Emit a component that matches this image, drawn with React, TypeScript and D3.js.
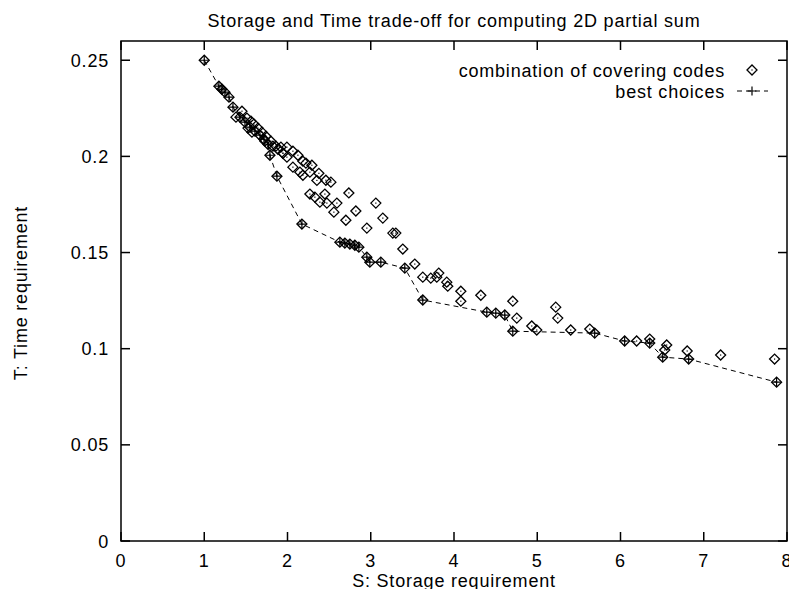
import React from "react";
import * as d3 from "d3";

const title = "Storage and Time trade-off for computing 2D partial sum";
const xLabel = "S: Storage requirement";
const yLabel = "T: Time requirement";
const xTicks = [0, 1, 2, 3, 4, 5, 6, 7, 8];
const yTicks = [0, 0.05, 0.1, 0.15, 0.2, 0.25];
const yTickLabels = ["0", "0.05", "0.1", "0.15", "0.2", "0.25"];

// best choices (S, T)
const bestS = [1.0, 1.176, 1.212, 1.248, 1.297, 1.345, 1.429, 1.489, 1.549, 1.609, 1.669, 1.717, 1.765, 1.789, 1.873, 2.173, 2.629, 2.689, 2.749, 2.809, 2.857, 2.953, 2.989, 3.121, 3.409, 3.625, 4.394, 4.502, 4.61, 4.706, 5.69, 6.05, 6.351, 6.507, 6.819, 7.875];
const bestT = [0.25, 0.2365, 0.2349, 0.2334, 0.2308, 0.2256, 0.2204, 0.2178, 0.2152, 0.2131, 0.211, 0.2089, 0.2063, 0.2006, 0.1897, 0.1648, 0.1554, 0.1549, 0.1544, 0.1538, 0.1528, 0.1476, 0.145, 0.145, 0.1419, 0.1253, 0.119, 0.1185, 0.1175, 0.1091, 0.1081, 0.104, 0.1029, 0.0956, 0.0946, 0.0826];

// other combinations of covering codes (S, T)
const otherS = [1.453, 1.513, 1.561, 1.597, 1.645, 1.693, 1.741, 1.801, 1.861, 1.885, 1.945, 1.993, 1.381, 1.525, 1.573, 1.729,
  1.825, 1.921, 1.993, 1.945, 2.065, 2.125, 2.185, 2.221, 2.293, 2.065, 2.149, 2.185, 2.269, 2.377, 2.353, 2.461, 2.521,
  2.269, 2.329, 2.449, 2.389, 2.473, 2.593, 2.737, 2.557, 2.821, 3.061, 2.701, 3.145, 2.953, 3.265, 3.301, 3.385, 3.529,
  3.625, 3.721, 3.793, 3.817, 3.913, 3.925, 4.082, 4.082, 4.322, 4.706, 4.754, 4.934, 4.994, 5.222, 5.246, 5.402, 5.631,
  6.194, 6.351, 6.555, 6.531, 6.801, 7.203, 7.851];
const otherT = [0.2235, 0.2199, 0.2183, 0.2168, 0.2147, 0.2126, 0.2105, 0.2079, 0.2053, 0.2037, 0.2016, 0.1996, 0.2204, 0.2147, 0.2126, 0.2079,
  0.2053, 0.2048, 0.2048, 0.2017, 0.2027, 0.2006, 0.1975, 0.1965, 0.1954, 0.1944, 0.1918, 0.1902, 0.1918, 0.1912, 0.1875, 0.1876, 0.1866,
  0.1804, 0.1788, 0.1804, 0.1762, 0.1757, 0.1757, 0.181, 0.1710, 0.1716, 0.1757, 0.1668, 0.1679, 0.1627, 0.1601, 0.1601, 0.1518, 0.1440,
  0.1372, 0.1367, 0.1372, 0.1393, 0.1346, 0.1325, 0.1299, 0.1247, 0.1278, 0.1247, 0.1159, 0.1118, 0.1097, 0.1216, 0.1159, 0.1097, 0.1102,
  0.104, 0.1050, 0.1019, 0.0993, 0.0988, 0.0967, 0.0946];

const W = 789;
const H = 589;
const left = 121;
const right = 787;
const top = 41;
const bottom = 541;

export default function App() {
  const x = d3.scaleLinear().domain([0, 8]).range([left, right]);
  const y = d3.scaleLinear().domain([0, 0.26]).range([bottom, top]);

  const allS = [...otherS, ...bestS];
  const allT = [...otherT, ...bestT];

  const line = d3
    .line<number>()
    .x((_, i) => x(bestS[i]))
    .y((_, i) => y(bestT[i]));

  const font = "'Liberation Sans', Arial, Helvetica, sans-serif";
  const fs = 18;
  const ls = 0.8;
  const ds = 5;
  const diamond = (cx: number, cy: number, key: string) => (
    <g key={key}>
      <path
        d={`M${cx - ds},${cy}L${cx},${cy - ds}L${cx + ds},${cy}L${cx},${cy + ds}Z`}
        fill="none"
        stroke="black"
        strokeWidth={1.3}
      />
      <rect x={cx - 0.6} y={cy - 0.6} width={1.2} height={1.2} fill="black" />
    </g>
  );
  const ps = 4.5;
  const plus = (cx: number, cy: number, key: string) => (
    <path
      key={key}
      d={`M${cx - ps},${cy}H${cx + ps}M${cx},${cy - ps}V${cy + ps}`}
      stroke="black"
      strokeWidth={1.2}
    />
  );

  return (
    <svg
      width={W}
      height={H}
      style={{ position: "absolute", left: 0, top: 0, background: "white" }}
      fontFamily={font}
      fontSize={fs}
      letterSpacing={ls}
    >
      <rect x={0} y={0} width={W} height={H} fill="white" />
      {/* frame */}
      <rect x={left} y={top} width={right - left} height={bottom - top} fill="none" stroke="black" strokeWidth={1.5} />
      {/* x ticks */}
      {xTicks.map((t) => (
        <g key={"xt" + t}>
          <line x1={x(t)} x2={x(t)} y1={bottom} y2={bottom - 9} stroke="black" strokeWidth={1.5} />
          <line x1={x(t)} x2={x(t)} y1={top} y2={top + 9} stroke="black" strokeWidth={1.5} />
          <text x={x(t)} y={567} textAnchor="middle">
            {t}
          </text>
        </g>
      ))}
      {/* y ticks */}
      {yTicks.map((t, i) => (
        <g key={"yt" + i}>
          <line x1={left} x2={left + 9} y1={y(t)} y2={y(t)} stroke="black" strokeWidth={1.5} />
          <line x1={right} x2={right - 9} y1={y(t)} y2={y(t)} stroke="black" strokeWidth={1.5} />
          <text x={109} y={y(t) + 6.5} textAnchor="end">
            {yTickLabels[i]}
          </text>
        </g>
      ))}
      {/* title & labels */}
      <text x={454} y={26.5} textAnchor="middle">
        {title}
      </text>
      <text x={454} y={586.5} textAnchor="middle">
        {xLabel}
      </text>
      <text transform={`translate(27,293) rotate(-90)`} textAnchor="middle">
        {yLabel}
      </text>
      {/* diamonds */}
      {allS.map((s, i) => diamond(x(s), y(allT[i]), "d" + i))}
      {/* best choices line */}
      <path d={line(bestS) || ""} fill="none" stroke="black" strokeWidth={1} strokeDasharray="5,4" />
      {bestS.map((s, i) => plus(x(s), y(bestT[i]), "p" + i))}
      {/* legend */}
      <text x={725} y={76.5} textAnchor="end">
        combination of covering codes
      </text>
      {diamond(752, 70, "legd")}
      <text x={725} y={97.5} textAnchor="end">
        best choices
      </text>
      <line x1={737} x2={768} y1={91} y2={91} stroke="black" strokeWidth={1} strokeDasharray="5,4" />
      {plus(752, 91, "legp")}
    </svg>
  );
}
